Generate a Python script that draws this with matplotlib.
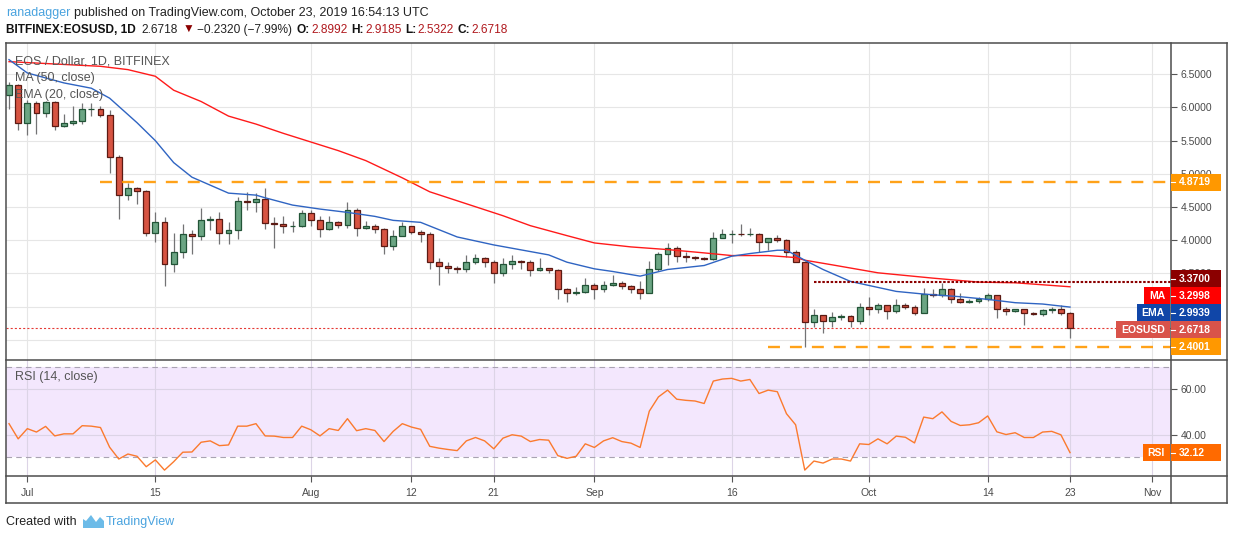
import matplotlib
matplotlib.use('Agg')
import matplotlib.pyplot as plt
import matplotlib.dates as mdates
from matplotlib.lines import Line2D
from matplotlib.patches import Rectangle, Polygon
import pandas as pd

# daily candles EOS/USD (Bitfinex), 2019-06-29 .. 2019-10-23
start_date = '2019-06-29'
opens = [6.19, 6.34, 5.76, 6.06, 5.91, 6.08, 5.72, 5.77, 5.79, 5.97,
         5.98, 5.88, 5.26, 4.68, 4.79, 4.74, 4.11, 4.28, 3.65, 3.83,
         4.09, 4.06, 4.30, 4.32, 4.11, 4.16, 4.59, 4.57, 4.62, 4.26,
         4.25, 4.21, 4.22, 4.41, 4.31, 4.17, 4.28, 4.23, 4.46, 4.19,
         4.22, 4.17, 3.91, 4.07, 4.21, 4.13, 4.09, 3.67, 3.62, 3.59,
         3.56, 3.68, 3.73, 3.67, 3.51, 3.64, 3.69, 3.67, 3.55, 3.58,
         3.55, 3.26, 3.20, 3.22, 3.33, 3.27, 3.33, 3.36, 3.31, 3.27,
         3.21, 3.57, 3.79, 3.88, 3.77, 3.75, 3.74, 3.72, 4.04, 4.09,
         4.10, 4.09, 4.10, 3.98, 4.03, 4.01, 3.82, 3.68, 2.77, 2.88,
         2.79, 2.85, 2.86, 2.79, 2.99, 2.96, 3.02, 2.94, 3.02, 3.00,
         2.91, 3.19, 3.17, 3.26, 3.12, 3.07, 3.09, 3.12, 3.17, 2.97,
         2.94, 2.96, 2.90, 2.89, 2.95, 2.96, 2.8992]
highs = [6.39, 6.36, 6.11, 6.10, 6.10, 6.09, 5.90, 6.02, 6.07, 6.07,
         6.02, 5.96, 5.28, 4.86, 4.80, 4.75, 4.42, 4.35, 4.11, 4.24,
         4.16, 4.49, 4.36, 4.42, 4.28, 4.65, 4.73, 4.71, 4.78, 4.35,
         4.37, 4.29, 4.46, 4.45, 4.36, 4.37, 4.29, 4.58, 4.48, 4.29,
         4.24, 4.18, 4.16, 4.28, 4.22, 4.16, 4.13, 3.73, 3.67, 3.62,
         3.78, 3.80, 3.75, 3.70, 3.73, 3.78, 3.70, 3.70, 3.73, 3.59,
         3.56, 3.28, 3.29, 3.43, 3.35, 3.38, 3.47, 3.38, 3.33, 3.38,
         3.69, 3.83, 3.96, 3.92, 3.82, 3.76, 3.75, 4.12, 4.17, 4.15,
         4.24, 4.18, 4.11, 4.04, 4.08, 4.02, 3.85, 3.69, 2.96, 2.88,
         2.92, 2.89, 2.87, 3.05, 3.14, 3.05, 3.03, 3.11, 3.05, 3.03,
         3.28, 3.26, 3.36, 3.28, 3.21, 3.12, 3.15, 3.20, 3.18, 2.99,
         2.97, 2.97, 2.92, 2.96, 2.99, 3.02, 2.9185]
lows = [5.97, 5.66, 5.58, 5.60, 5.85, 5.66, 5.71, 5.74, 5.75, 5.87,
        5.86, 5.01, 4.32, 4.60, 4.55, 4.07, 3.97, 3.31, 3.52, 3.73,
        3.80, 4.00, 4.16, 3.94, 3.95, 4.02, 4.45, 4.42, 4.17, 3.88,
        4.11, 4.12, 4.20, 4.22, 4.05, 4.16, 4.18, 4.19, 4.06, 4.17,
        4.11, 3.80, 3.85, 4.06, 4.09, 3.98, 3.57, 3.33, 3.50, 3.50,
        3.52, 3.65, 3.60, 3.35, 3.46, 3.57, 3.56, 3.46, 3.53, 3.50,
        3.12, 3.07, 3.18, 3.20, 3.12, 3.22, 3.31, 3.27, 3.20, 3.12,
        3.20, 3.53, 3.63, 3.67, 3.67, 3.71, 3.71, 3.71, 4.03, 3.96,
        4.06, 4.06, 3.83, 3.85, 3.98, 3.75, 3.67, 2.40, 2.70, 2.60,
        2.70, 2.80, 2.69, 2.74, 2.87, 2.91, 2.82, 2.91, 2.96, 2.87,
        2.90, 3.15, 3.14, 3.05, 3.06, 3.06, 3.06, 3.09, 2.83, 2.88,
        2.92, 2.72, 2.87, 2.86, 2.91, 2.88, 2.5322]
closes = [6.34, 5.76, 6.06, 5.91, 6.08, 5.72, 5.77, 5.79, 5.97, 5.98,
          5.88, 5.26, 4.68, 4.79, 4.74, 4.11, 4.28, 3.65, 3.83, 4.09,
          4.06, 4.30, 4.32, 4.11, 4.16, 4.59, 4.57, 4.62, 4.26, 4.25,
          4.21, 4.22, 4.41, 4.31, 4.17, 4.28, 4.23, 4.46, 4.19, 4.22,
          4.17, 3.91, 4.07, 4.21, 4.13, 4.09, 3.67, 3.62, 3.59, 3.56,
          3.68, 3.73, 3.67, 3.51, 3.64, 3.69, 3.67, 3.55, 3.58, 3.55,
          3.26, 3.20, 3.22, 3.33, 3.27, 3.33, 3.36, 3.31, 3.27, 3.21,
          3.57, 3.79, 3.88, 3.77, 3.75, 3.74, 3.72, 4.04, 4.09, 4.10,
          4.09, 4.10, 3.98, 4.03, 4.01, 3.82, 3.68, 2.77, 2.88, 2.79,
          2.85, 2.86, 2.79, 2.99, 2.96, 3.02, 2.94, 3.02, 3.00, 2.91,
          3.19, 3.17, 3.26, 3.12, 3.07, 3.09, 3.12, 3.17, 2.97, 2.94,
          2.96, 2.90, 2.89, 2.95, 2.96, 2.9038, 2.6718]

rsi_vals = [44.9, 38.2, 42.7, 41.2, 43.7, 39.5, 40.4, 40.4, 44.0, 43.8,
            43.2, 34.5, 29.3, 31.5, 30.5, 25.9, 28.9, 24.4, 28.1, 32.3,
            32.4, 36.7, 37.3, 35.2, 35.5, 43.8, 43.8, 44.9, 39.5, 39.4,
            38.8, 38.8, 43.8, 42.2, 39.5, 42.7, 41.9, 47.1, 41.8, 42.7,
            41.9, 37.0, 41.5, 44.9, 43.4, 42.4, 34.9, 34.1, 33.5, 33.0,
            37.3, 38.8, 37.3, 33.8, 38.5, 40.0, 39.4, 37.0, 37.9, 37.6,
            30.8, 29.6, 30.5, 36.0, 34.4, 37.3, 38.7, 37.0, 36.3, 34.4,
            50.4, 56.7, 59.7, 55.7, 55.2, 54.9, 53.8, 63.7, 64.6, 64.9,
            63.7, 64.4, 58.2, 59.7, 59.0, 49.3, 44.4, 24.4, 28.4, 27.5,
            29.3, 29.3, 28.4, 36.0, 35.7, 38.2, 36.0, 39.4, 38.9, 36.4,
            47.8, 47.1, 50.1, 45.9, 44.1, 44.4, 45.3, 48.3, 41.3, 40.1,
            40.9, 38.8, 38.8, 41.2, 41.5, 40.0, 32.12]

# MA(50) and EMA(20)
ma_dates = ['2019-06-29', '2019-07-09', '2019-07-12', '2019-07-15', '2019-07-17',
            '2019-07-20', '2019-07-23', '2019-07-26', '2019-07-29', '2019-08-01',
            '2019-08-04', '2019-08-07', '2019-08-09', '2019-08-11', '2019-08-14',
            '2019-08-18', '2019-08-22', '2019-08-25', '2019-08-29', '2019-09-01',
            '2019-09-05', '2019-09-09', '2019-09-13', '2019-09-16', '2019-09-20',
            '2019-09-23', '2019-09-24', '2019-09-27', '2019-10-02', '2019-10-08',
            '2019-10-13', '2019-10-17', '2019-10-23']
ma_vals = [6.69, 6.62, 6.57, 6.47, 6.26, 6.09, 5.87, 5.75, 5.61, 5.48,
           5.35, 5.20, 5.07, 4.94, 4.73, 4.55, 4.37, 4.22, 4.07, 3.96,
           3.90, 3.86, 3.81, 3.77, 3.77, 3.74, 3.70, 3.63, 3.51, 3.43,
           3.37, 3.36, 3.2998]
ema_dates = ['2019-06-29', '2019-07-01', '2019-07-05', '2019-07-08', '2019-07-10',
             '2019-07-13', '2019-07-15', '2019-07-17', '2019-07-19', '2019-07-21',
             '2019-07-23', '2019-07-26', '2019-07-27', '2019-07-30', '2019-08-02',
             '2019-08-05', '2019-08-08', '2019-08-10', '2019-08-13', '2019-08-17',
             '2019-08-21', '2019-08-27', '2019-08-29', '2019-09-01', '2019-09-03',
             '2019-09-06', '2019-09-09', '2019-09-13', '2019-09-16', '2019-09-18',
             '2019-09-21', '2019-09-22', '2019-09-24', '2019-09-26', '2019-09-29',
             '2019-10-04', '2019-10-07', '2019-10-11', '2019-10-14', '2019-10-17',
             '2019-10-20', '2019-10-23']
ema_vals = [6.72, 6.52, 6.37, 6.29, 6.14, 5.77, 5.50, 5.17, 4.95, 4.83,
            4.71, 4.68, 4.64, 4.53, 4.47, 4.42, 4.36, 4.30, 4.27, 4.05,
            3.93, 3.78, 3.67, 3.57, 3.53, 3.46, 3.56, 3.62, 3.76, 3.80,
            3.85, 3.85, 3.70, 3.56, 3.38, 3.23, 3.19, 3.15, 3.11, 3.06,
            3.04, 2.9939]

# drawn levels and where they start
resist_high = 4.8719
resist_high_from = '2019-07-09'
support_low = 2.4001
support_low_from = '2019-09-20'
resist_mid = 3.37
resist_mid_from = '2019-09-25'

date_ticks = ['2019-07-01', '2019-07-15', '2019-08-01', '2019-08-12', '2019-08-21',
              '2019-09-01', '2019-09-16', '2019-10-01', '2019-10-14', '2019-10-23',
              '2019-11-01']
date_labels = ['Jul', '15', 'Aug', '12', '21', 'Sep', '16', 'Oct', '14', '23', 'Nov']
price_ticks = [2.5, 3.0, 3.5, 4.0, 4.5, 5.0, 5.5, 6.0, 6.5]
hidden_price_labels = [2.5, 3.0]  # fully covered by the level badges in the original
rsi_ticks = [40, 60]

W, H = 1234, 540
UP, DOWN = '#6ba583', '#d75442'
UP_EDGE, DOWN_EDGE = '#225437', '#5b1a13'
WICK = '#737375'
GRID = '#e6e6e6'
FRAME = '#4d4d4d'
AXTXT = '#4a4a4a'

plt.rcParams['font.family'] = ['Liberation Sans', 'DejaVu Sans']
plt.rcParams['lines.scale_dashes'] = False


def fx(px):
    return px / W


def fy(py):
    return 1 - py / H


fig = plt.figure(figsize=(W / 100, H / 100), dpi=100)
fig.patch.set_facecolor('white')

ax = fig.add_axes([fx(6), fy(360), fx(1165), fy(43) - fy(360)])
ax_rsi = fig.add_axes([fx(6), fy(476), fx(1165), fy(360) - fy(476)], sharex=ax)

dates = pd.date_range(start_date, periods=len(closes), freq='D')
x = mdates.date2num(dates)
x0 = x[0]

# candles
for xi, o, h, l, c in zip(x, opens, highs, lows, closes):
    up = c >= o
    ax.vlines(xi, l, h, color=WICK, lw=0.9, zorder=2)
    body = max(abs(c - o), 0.012)
    ax.add_patch(Rectangle((xi - 0.32, min(o, c)), 0.64, body,
                           facecolor=UP if up else DOWN,
                           edgecolor=UP_EDGE if up else DOWN_EDGE,
                           lw=0.9, zorder=3))

ax.plot(mdates.date2num(pd.to_datetime(ma_dates)), ma_vals, color='#ff1a1a', lw=1.0, zorder=4)
ax.plot(mdates.date2num(pd.to_datetime(ema_dates)), ema_vals, color='#2f64c2', lw=1.0, zorder=4)

xmax = x0 + 127.04
ax.hlines(resist_high, mdates.date2num(pd.Timestamp(resist_high_from)), xmax,
          color='#ff9800', lw=1.7, linestyles=(0, (8.6, 7.2)), alpha=0.9, zorder=5)
ax.hlines(support_low, mdates.date2num(pd.Timestamp(support_low_from)), xmax,
          color='#ff9800', lw=1.7, linestyles=(0, (8.6, 7.2)), alpha=0.9, zorder=5)
ax.hlines(resist_mid, mdates.date2num(pd.Timestamp(resist_mid_from)), xmax,
          color='#8b0000', lw=1.5, linestyles=(0, (1.8, 1.2)), zorder=5)
ax.axhline(closes[-1], color='#e53935', lw=0.8, linestyle=(0, (1.5, 1.5)), zorder=1)

ax.set_xlim(x0 - 0.33, xmax)
ax.set_ylim(2.197, 6.971)
tick_x = mdates.date2num(pd.to_datetime(date_ticks))
ax.set_xticks(tick_x)
ax.set_yticks(price_ticks)
ax.set_yticklabels(['' if v in hidden_price_labels else f'{v:.4f}' for v in price_ticks])
ax.yaxis.tick_right()
ax.tick_params(axis='y', direction='out', length=4, width=0.8, color='#555555',
               labelcolor=AXTXT, labelsize=7.5, pad=3)
ax.tick_params(axis='x', length=0, labelbottom=False)
ax.grid(True, color=GRID, lw=0.8, zorder=0)
ax.set_axisbelow(True)
for s in ax.spines.values():
    s.set_visible(False)

# RSI pane
ax_rsi.axhspan(30, 70, color='#f3e7fd', zorder=0, lw=0)
for lvl in (30, 70):
    ax_rsi.axhline(lvl, color='#a9a3b2', lw=0.8, linestyle=(0, (4, 3)), zorder=1)
ax_rsi.plot(x, rsi_vals, color='#fb7a2e', lw=1.0, zorder=3)
ax_rsi.set_ylim(21.8, 73.0)
ax_rsi.set_yticks(rsi_ticks)
ax_rsi.set_yticklabels([f'{v:.2f}' for v in rsi_ticks])
ax_rsi.yaxis.tick_right()
ax_rsi.tick_params(axis='y', direction='out', length=4, width=0.8, color='#555555',
                   labelcolor=AXTXT, labelsize=7.5, pad=3)
ax_rsi.set_xticks(tick_x)
ax_rsi.set_xticklabels(date_labels)
ax_rsi.tick_params(axis='x', direction='out', length=4, width=0.8, color='#555555',
                   labelcolor=AXTXT, labelsize=7.5, pad=5)
ax_rsi.grid(True, color='#dcd4e6', lw=0.8, zorder=0)
ax_rsi.set_axisbelow(True)
ax_rsi.set_facecolor('white')
for s in ax_rsi.spines.values():
    s.set_visible(False)

# frame lines
frame = [((6, 1227), (43, 43)), ((6, 1227), (360, 360)), ((6, 1227), (476, 476)),
         ((6, 1227), (503, 503)), ((6, 6), (43, 503)), ((1171, 1171), (43, 503)),
         ((1227, 1227), (43, 503))]
for (xa, xb), (ya, yb) in frame:
    fig.add_artist(Line2D([fx(xa), fx(xb)], [fy(ya), fy(yb)], color=FRAME, lw=1.1, zorder=6))

renderer = fig.canvas.get_renderer()


def badge(py, text, color, title=None):
    fig.add_artist(Rectangle((fx(1171), fy(py + 8.5)), fx(50), 17 / H,
                             transform=fig.transFigure, facecolor=color,
                             edgecolor='none', zorder=10))
    fig.add_artist(Line2D([fx(1171), fx(1175)], [fy(py), fy(py)], color='white', lw=0.8, zorder=11))
    fig.text(fx(1179), fy(py), text, color='white', fontsize=7.5, fontweight='bold',
             va='center', ha='left', zorder=12)
    if title:
        t = fig.text(fx(1165), fy(py), title, color='white', fontsize=7.5,
                     fontweight='bold', va='center', ha='right', zorder=12)
        w = t.get_window_extent(renderer=renderer).width
        fig.add_artist(Rectangle((fx(1170 - w - 10), fy(py + 8.5)), fx(w + 10), 17 / H,
                                 transform=fig.transFigure, facecolor=color,
                                 edgecolor='none', zorder=10))


def to_py(axis, v):
    return H - axis.transData.transform((x0, v))[1]


labels = [
    (resist_high, f'{resist_high:.4f}', '#ff9800', None),
    (resist_mid, f'{resist_mid:.4f}', '#8b0000', None),
    (ma_vals[-1], f'{ma_vals[-1]:.4f}', '#ff0000', 'MA'),
    (ema_vals[-1], f'{ema_vals[-1]:.4f}', '#1046a8', 'EMA'),
    (closes[-1], f'{closes[-1]:.4f}', '#d9534a', 'EOSUSD'),
    (support_low, f'{support_low:.4f}', '#ff9800', None),
]
# stack labels that would collide, bottom one stays on its level
placed = sorted([(to_py(ax, v), t, c, ti) for v, t, c, ti in labels], key=lambda r: -r[0])
prev_true, anchor, k = None, None, 0
for py, t, c, ti in placed:
    if prev_true is not None and prev_true - py < 25:
        k += 1
        pos = anchor - 17 * k
    else:
        anchor, k, pos = py, 0, py
    prev_true = py
    badge(pos, t, c, ti)

badge(to_py(ax_rsi, rsi_vals[-1]), f'{rsi_vals[-1]:.2f}', '#ff6a00', 'RSI')

# pane legends
for ypx, txt in [(61, 'EOS / Dollar, 1D, BITFINEX'), (78, 'MA (50, close)'),
                 (95, 'EMA (20, close)'), (377, 'RSI (14, close)')]:
    fig.text(fx(15), fy(ypx), txt, color='#555555', fontsize=9, va='center')


def draw_runs(px, py, runs, size):
    for txt, color, weight, gap in runs:
        t = fig.text(fx(px), fy(py), txt, color=color, fontsize=size,
                     fontweight=weight, va='center', ha='left')
        px += t.get_window_extent(renderer=renderer).width + gap


chg = closes[-1] - closes[-2]
pct = chg / closes[-2] * 100
VAL = '#b0191e'
draw_runs(6, 13, [('ranadagger', '#4aa3df', 'normal', 4),
                  ('published on TradingView.com, October 23, 2019 16:54:13 UTC', '#222222', 'normal', 0)], 9)
draw_runs(6, 30, [('BITFINEX:EOSUSD, 1D', '#111111', 'bold', 6),
                  (f'{closes[-1]:.4f}', '#222222', 'normal', 4),
                  ('\u25bc', '#8b0000', 'normal', 3),
                  (f'\u2212{abs(chg):.4f} (\u2212{abs(pct):.2f}%)', '#222222', 'normal', 5),
                  ('O:', '#111111', 'bold', 1), (f'{opens[-1]:.4f}', VAL, 'normal', 4),
                  ('H:', '#111111', 'bold', 1), (f'{highs[-1]:.4f}', VAL, 'normal', 4),
                  ('L:', '#111111', 'bold', 1), (f'{lows[-1]:.4f}', VAL, 'normal', 4),
                  ('C:', '#111111', 'bold', 1), (f'{closes[-1]:.4f}', VAL, 'normal', 0)], 8.6)

# footer
fig.text(fx(6), fy(522), 'Created with', color='#222222', fontsize=9, va='center')
logo = [(83, 528), (104, 528), (104, 521), (100, 517), (96, 522), (91, 515),
        (86, 521), (83, 519)]
fig.add_artist(Polygon([(fx(a), fy(b)) for a, b in logo], closed=True,
                       transform=fig.transFigure, facecolor='#6cbbe8', edgecolor='none'))
fig.text(fx(106), fy(522), 'TradingView', color='#4aa3df', fontsize=9, va='center')

fig.savefig('out.png', dpi=100, facecolor='white')
